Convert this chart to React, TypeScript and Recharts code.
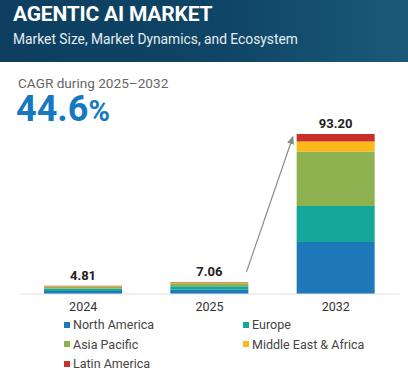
import React from "react";
import { Bar, BarChart, LabelList, Legend, XAxis, YAxis } from "recharts";

const years = ["2024", "2025", "2032"];
const northAmerica = [1.75, 2.5, 30.3];
const europe = [1.35, 1.95, 20.9];
const asiaPacific = [1.1, 1.75, 31.8];
const middleEastAfrica = [0.35, 0.5, 5.9];
const latinAmerica = [0.26, 0.36, 4.3];
const totals = [4.81, 7.06, 93.2];

const regions = [
  { key: "na", name: "North America", color: "#1f78b9", values: northAmerica },
  { key: "eu", name: "Europe", color: "#14a79a", values: europe },
  { key: "ap", name: "Asia Pacific", color: "#8fb251", values: asiaPacific },
  { key: "mea", name: "Middle East & Africa", color: "#fbb817", values: middleEastAfrica },
  { key: "la", name: "Latin America", color: "#c93029", values: latinAmerica },
];

const chartData = years.map((year, i) => {
  const row: Record<string, number | string> = { year, total: totals[i] };
  regions.forEach((r) => (row[r.key] = r.values[i]));
  return row;
});

const W = 408;
const H = 380;
const margin = { top: 134, right: 9, bottom: 0, left: 20 };
const xAxisHeight = 22;
const legendHeight = 64;
const yMax = totals[totals.length - 1];
const barSize = 78;

// plot geometry, used to place the growth arrow
const plotW = W - margin.left - margin.right;
const plotH = H - margin.top - margin.bottom - xAxisHeight - legendHeight;
const band = plotW / years.length;
const yOf = (v: number) => margin.top + plotH * (1 - v / yMax);
const arrowFrom = { x: margin.left + band * 1.5 + barSize / 2 - 2, y: yOf(totals[1]) - 10 };
const arrowTo = { x: margin.left + band * 2.5 - barSize / 2 - 4, y: yOf(totals[2]) + 3 };

const font = "Roboto, 'Noto Sans', sans-serif";

const TotalLabel = (props: any) => {
  const { x, y, width, index } = props;
  return (
    <text
      x={x + width / 2}
      y={y - 6}
      textAnchor="middle"
      fontSize={13}
      fontWeight={700}
      fill="#222"
      fontFamily={font}
    >
      {totals[index].toFixed(2)}
    </text>
  );
};

const LegendContent = () => (
  <div
    style={{
      height: legendHeight,
      display: "grid",
      gridTemplateColumns: "179px 160px",
      gridAutoRows: 19.5,
      alignContent: "start",
      paddingLeft: 44,
      marginTop: -1,
      fontFamily: font,
      fontSize: 12.5,
      color: "#444",
    }}
  >
    {regions.map((r) => (
      <div key={r.key} style={{ display: "flex", alignItems: "center", height: 19.5 }}>
        <span
          style={{ width: 6, height: 6, background: r.color, marginRight: 3, display: "inline-block" }}
        />
        {r.name}
      </div>
    ))}
  </div>
);

export default function App() {
  return (
    <div
      style={{
        position: "fixed",
        top: 0,
        left: 0,
        width: W,
        height: H,
        background: "#fff",
        fontFamily: font,
        overflow: "hidden",
      }}
    >
      <div
        style={{
          position: "absolute",
          top: 0,
          left: 0,
          width: W,
          height: 62,
          background: "linear-gradient(90deg, #0d3e5f 0%, #0f4566 55%, #1a5a78 100%)",
        }}
      >
        <div
          style={{
            position: "absolute",
            left: 13,
            top: 2,
            color: "#fff",
            fontWeight: 700,
            fontSize: 21,
            letterSpacing: -0.2,
          }}
        >
          AGENTIC AI MARKET
        </div>
        <div style={{ position: "absolute", left: 13, top: 31, color: "#e6edf2", fontSize: 13.8 }}>
          Market Size, Market Dynamics, and Ecosystem
        </div>
      </div>
      <div
        style={{ position: "absolute", left: 18, top: 77, color: "#666", fontSize: 13.6, lineHeight: 1 }}
      >
        CAGR during 2025–2032
      </div>
      <div
        style={{
          position: "absolute",
          left: 16,
          top: 91,
          color: "#1679bf",
          fontSize: 36,
          fontWeight: 700,
          lineHeight: 1,
        }}
      >
        44.6<span style={{ fontSize: 29 }}>%</span>
      </div>
      <div style={{ position: "absolute", top: 0, left: 0 }}>
        <BarChart width={W} height={H} data={chartData} margin={margin}>
          <XAxis
            dataKey="year"
            height={xAxisHeight}
            tickLine={false}
            axisLine={{ stroke: "#e2e2e2" }}
            tick={{ fill: "#333", fontSize: 12.5, fontFamily: font }}
          />
          <YAxis hide domain={[0, yMax]} allowDataOverflow />
          <Legend verticalAlign="bottom" height={legendHeight} content={<LegendContent />} />
          {regions.map((r, i) => (
            <Bar
              key={r.key}
              dataKey={r.key}
              name={r.name}
              stackId="a"
              fill={r.color}
              barSize={barSize}
              isAnimationActive={false}
            >
              {i === regions.length - 1 && <LabelList dataKey="total" content={<TotalLabel />} />}
            </Bar>
          ))}
        </BarChart>
      </div>
      <svg
        width={W}
        height={H}
        style={{ position: "absolute", top: 0, left: 0, pointerEvents: "none" }}
      >
        <defs>
          <marker id="arrowHead" markerWidth="8" markerHeight="8" refX="6" refY="4" orient="auto">
            <path d="M0,1 L7,4 L0,7 Z" fill="#888" />
          </marker>
        </defs>
        <line
          x1={arrowFrom.x}
          y1={arrowFrom.y}
          x2={arrowTo.x}
          y2={arrowTo.y}
          stroke="#8a8a8a"
          strokeWidth={1.2}
          markerEnd="url(#arrowHead)"
        />
      </svg>
    </div>
  );
}
